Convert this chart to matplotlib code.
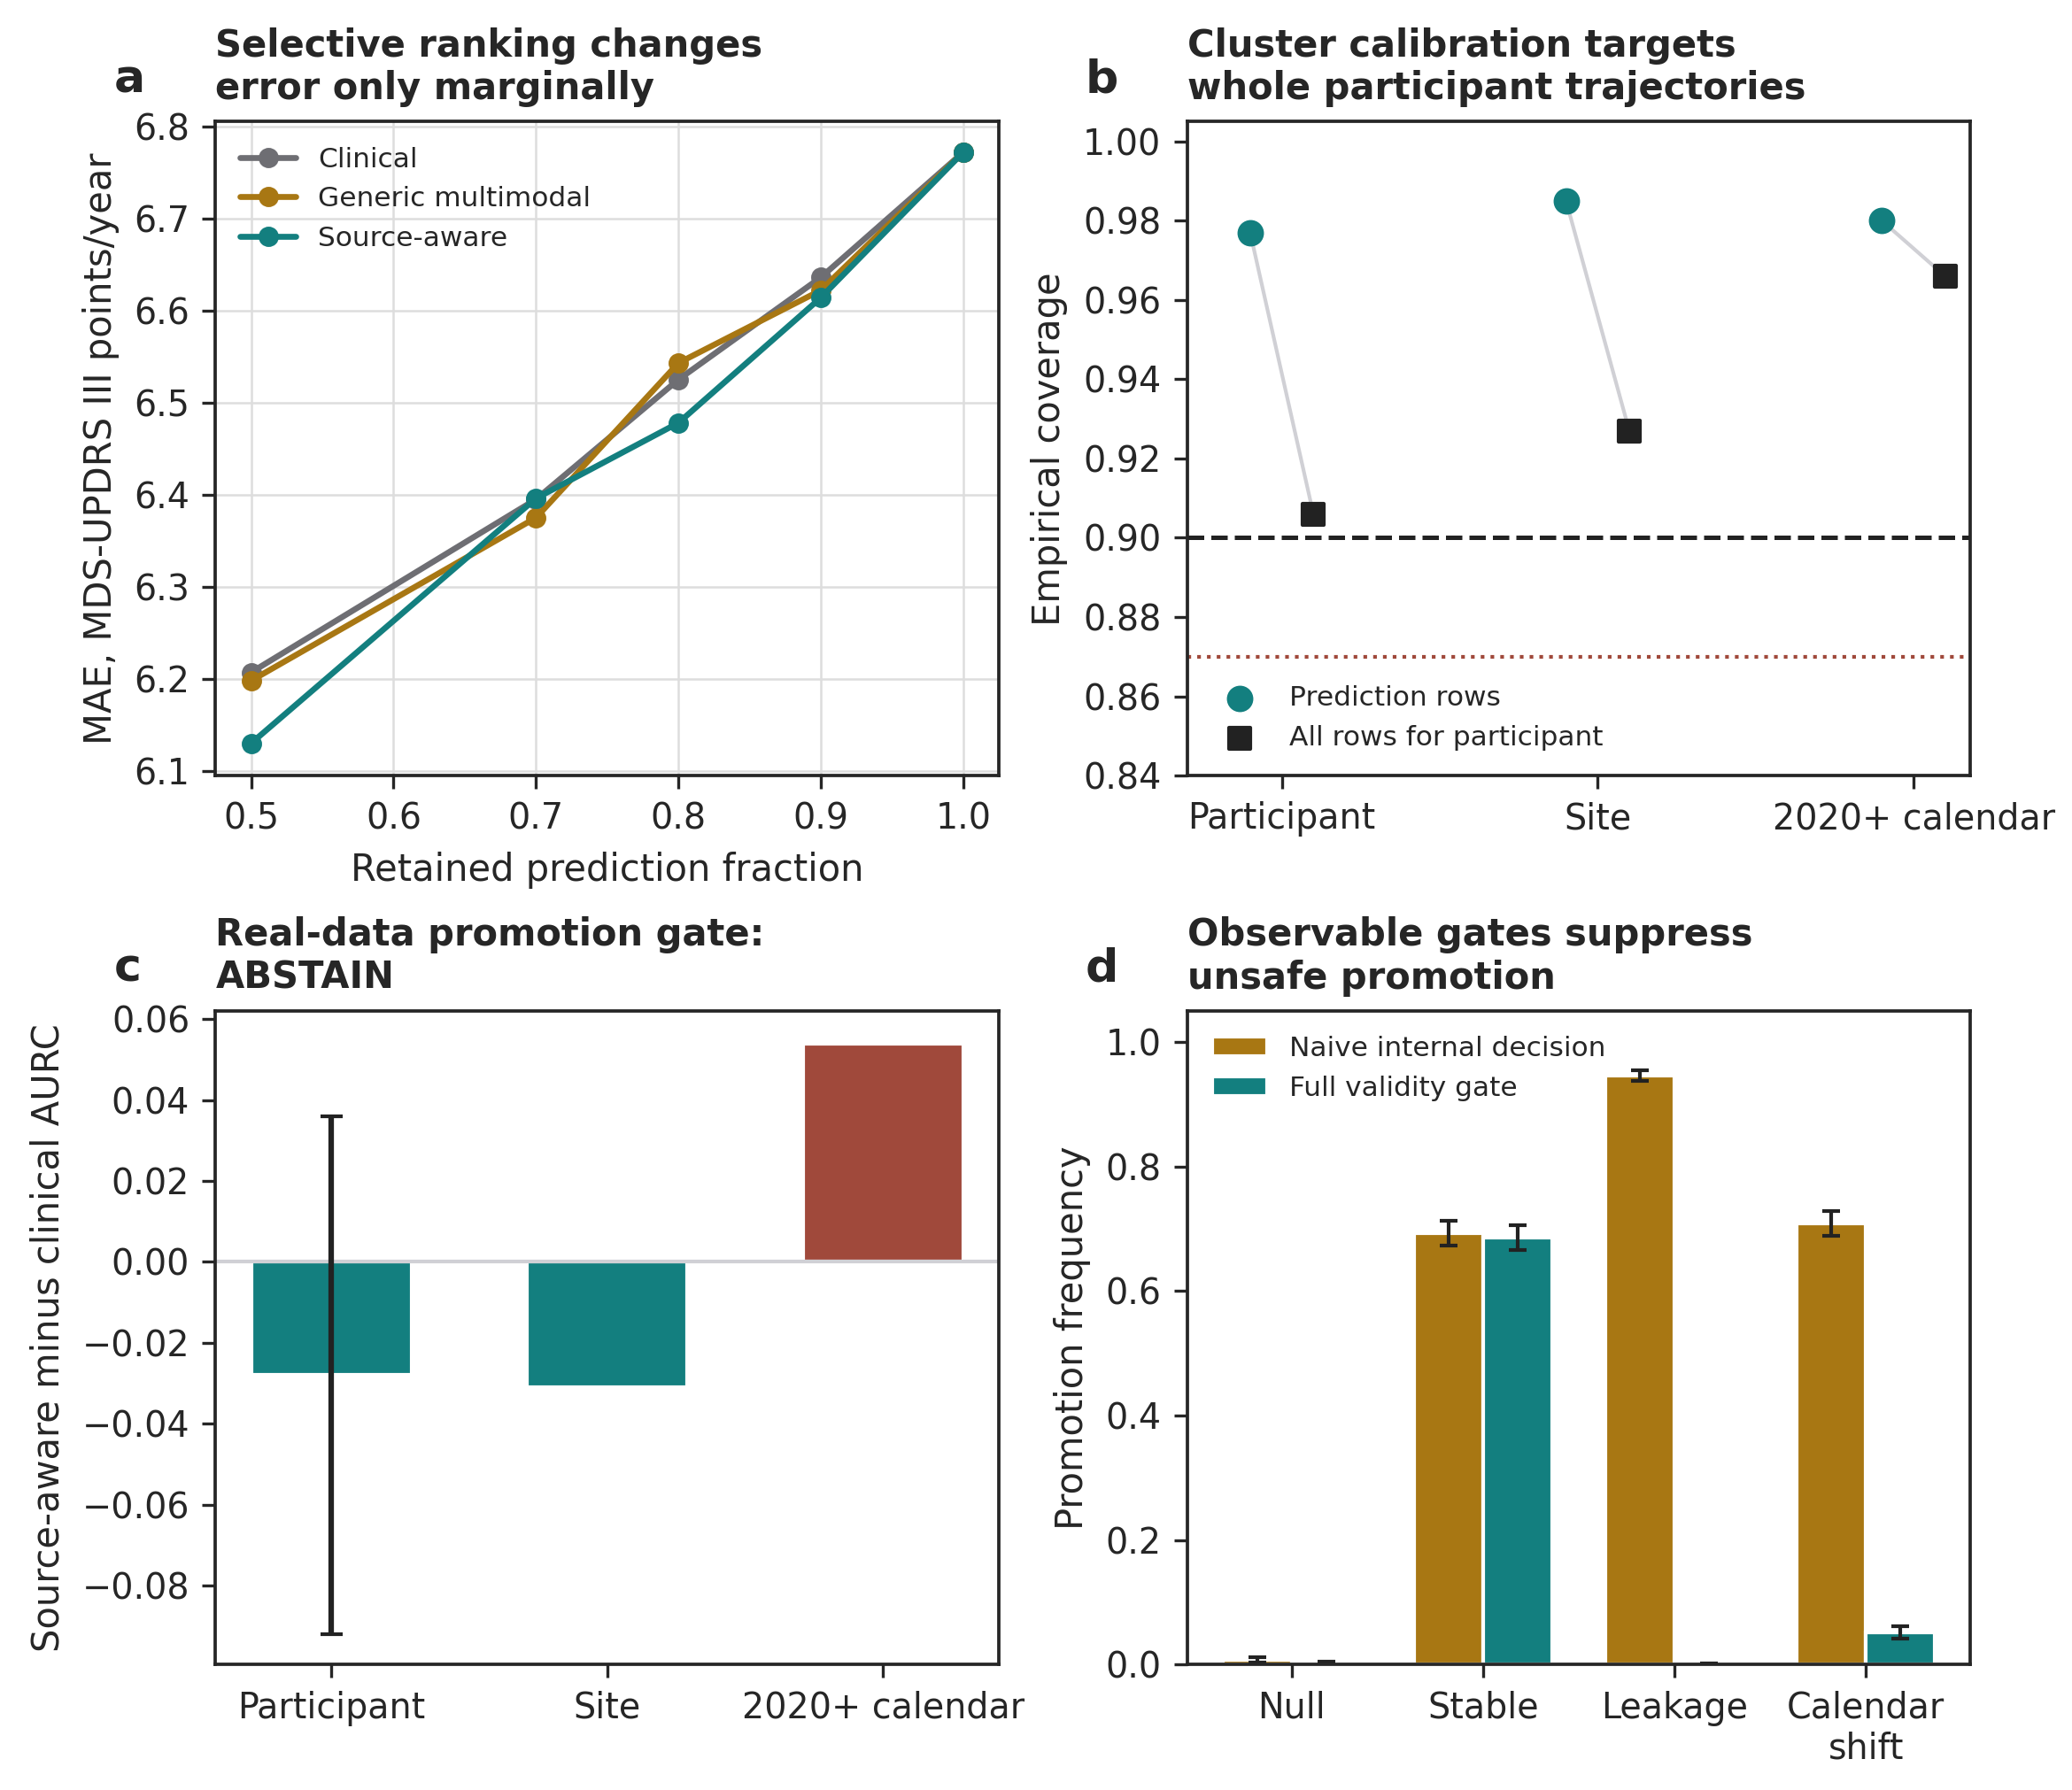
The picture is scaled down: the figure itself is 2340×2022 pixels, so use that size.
import matplotlib
matplotlib.use("Agg")
import matplotlib.pyplot as plt
import numpy as np
import seaborn as sns

sns.set_theme(style="ticks")
plt.rcParams['font.family'] = ['DejaVu Sans']
plt.rcParams['axes.linewidth'] = 0.9
plt.rcParams['xtick.major.size'] = 3.5
plt.rcParams['ytick.major.size'] = 3.5
plt.rcParams['xtick.major.width'] = 0.8
plt.rcParams['ytick.major.width'] = 0.8

TEAL = "#137f7f"; GOLD = "#a87713"; GRAY = "#6e6e73"; RED = "#a0493b"; DARK = "#222222"

frac = [0.5, 0.7, 0.8, 0.9, 1.0]
mae_clinical = [6.207, 6.395, 6.525, 6.636, 6.772]
mae_generic = [6.198, 6.375, 6.543, 6.622, 6.772]
mae_source = [6.130, 6.396, 6.478, 6.614, 6.772]

splits = ["Participant", "Site", "2020+ calendar"]
cov_pred = [0.977, 0.985, 0.980]
cov_all = [0.906, 0.927, 0.966]

aurc_diff = [-0.028, -0.031, 0.054]
aurc_lo = [-0.092, None, None]
aurc_hi = [0.036, None, None]

scenarios = ["Null", "Stable", "Leakage", "Calendar\nshift"]
naive = [0.008, 0.693, 0.946, 0.709]
naive_err = [0.004, 0.020, 0.008, 0.020]
full = [0.003, 0.686, 0.001, 0.052]
full_err = [0.002, 0.020, 0.001, 0.010]

fig, axs = plt.subplots(2, 2, figsize=(7.8, 6.74), dpi=300)
fig.subplots_adjust(left=0.104, right=0.951, top=0.932, bottom=0.07, wspace=0.24, hspace=0.36)
for ax in axs.flat:
    ax.tick_params(labelsize=9.5)

# a
ax = axs[0, 0]
ax.grid(True, color="#dddddd", lw=0.6)
for y, c, l in [(mae_clinical, GRAY, "Clinical"), (mae_generic, GOLD, "Generic multimodal"), (mae_source, TEAL, "Source-aware")]:
    ax.plot(frac, y, "-o", color=c, lw=1.6, ms=4.5, label=l)
ax.set_ylim(6.095, 6.805)
ax.set_xlabel("Retained prediction fraction", fontsize=10)
ax.set_ylabel("MAE, MDS-UPDRS III points/year", fontsize=10)
ax.legend(frameon=False, fontsize=7.5, loc="upper left")
ax.set_title("Selective ranking changes\nerror only marginally", fontsize=10, fontweight="bold", loc="left")

# b
ax = axs[0, 1]
x = np.arange(3)
for i in range(3):
    ax.plot([x[i]-0.1, x[i]+0.1], [cov_pred[i], cov_all[i]], color="#d0d0d5", lw=1.0, zorder=1)
ax.scatter(x-0.1, cov_pred, color=TEAL, s=38, zorder=3, label="Prediction rows")
ax.scatter(x+0.1, cov_all, color=DARK, marker="s", s=34, zorder=3, label="All rows for participant")
ax.axhline(0.90, color=DARK, ls="--", lw=1.2)
ax.axhline(0.87, color=RED, ls=":", lw=1.0)
ax.set_ylim(0.84, 1.005)
ax.set_xlim(-0.3, 2.18)
ax.set_xticks(x); ax.set_xticklabels(splits)
ax.set_ylabel("Empirical coverage", fontsize=10)
ax.legend(frameon=False, fontsize=7.5, loc="lower left")
ax.set_title("Cluster calibration targets\nwhole participant trajectories", fontsize=10, fontweight="bold", loc="left")

# c
ax = axs[1, 0]
ax.bar(x, aurc_diff, width=0.58, color=[TEAL, TEAL, RED])
ax.axhline(0, color="#d0d0d5", lw=1.0)
for i in range(3):
    if aurc_lo[i] is not None:
        ax.errorbar(x[i], aurc_diff[i], yerr=[[aurc_diff[i]-aurc_lo[i]], [aurc_hi[i]-aurc_diff[i]]],
                    color=DARK, capsize=3, lw=1.5)
ax.set_ylim(-0.0995, 0.062)
ax.set_xlim(-0.42, 2.42)
ax.set_xticks(x); ax.set_xticklabels(splits)
ax.set_ylabel("Source-aware minus clinical AURC", fontsize=10)
ax.set_title("Real-data promotion gate:\nABSTAIN", fontsize=10, fontweight="bold", loc="left")

# d
ax = axs[1, 1]
x4 = np.arange(4)
w = 0.36
ax.bar(x4-w/2, naive, w, yerr=naive_err, color=GOLD, capsize=2.5, error_kw=dict(lw=1, ecolor=DARK), label="Naive internal decision")
ax.bar(x4+w/2, full, w, yerr=full_err, color=TEAL, capsize=2.5, error_kw=dict(lw=1, ecolor=DARK), label="Full validity gate")
ax.set_ylim(0, 1.05)
ax.set_xticks(x4); ax.set_xticklabels(scenarios)
ax.set_ylabel("Promotion frequency", fontsize=10)
ax.legend(frameon=False, fontsize=7.5, loc="upper left")
ax.set_title("Observable gates suppress\nunsafe promotion", fontsize=10, fontweight="bold", loc="left")

for ax, lab in zip(axs.flat, "abcd"):
    ax.text(-0.13, 1.03, lab, transform=ax.transAxes, fontsize=12.5, fontweight="bold", va="bottom")
fig.savefig("out.png", dpi=300)
